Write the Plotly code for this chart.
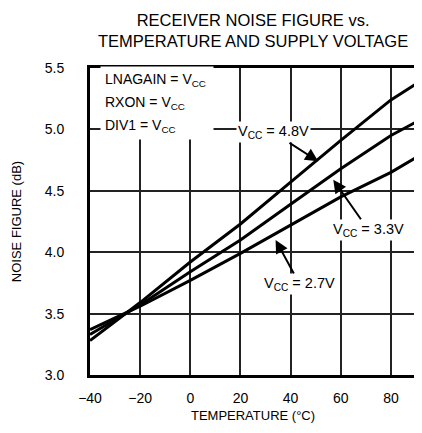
import plotly.graph_objects as go

temp = [-40, -20, 0, 20, 40, 60, 80, 90]
nf_48 = [3.28, 3.59, 3.92, 4.23, 4.57, 4.91, 5.24, 5.37]
nf_33 = [3.33, 3.57, 3.84, 4.10, 4.39, 4.68, 4.95, 5.06]
nf_27 = [3.37, 3.56, 3.77, 3.99, 4.22, 4.45, 4.65, 4.77]
series_names = ["V<sub>CC</sub> = 4.8V", "V<sub>CC</sub> = 3.3V", "V<sub>CC</sub> = 2.7V"]
conditions = ["LNAGAIN = V<sub>CC</sub>", "RXON = V<sub>CC</sub>", "DIV1 = V<sub>CC</sub>"]

x_ticks = [-40, -20, 0, 20, 40, 60, 80]
y_ticks = [3.0, 3.5, 4.0, 4.5, 5.0, 5.5]

FONT = "Liberation Sans, Arial, Helvetica"

fig = go.Figure()
for y, name in zip([nf_48, nf_33, nf_27], series_names):
    fig.add_trace(go.Scatter(x=temp, y=y, mode="lines", name=name,
                             line=dict(color="black", width=3), showlegend=False))

# arrow labels: tip on the curve, text offset in pixels
fig.add_annotation(x=51, y=4.74, text=series_names[0], ax=-45, ay=-29)
fig.add_annotation(x=57, y=4.59, text=series_names[1], ax=35, ay=50)
fig.add_annotation(x=34, y=4.10, text=series_names[2], ax=24, ay=44)
fig.update_annotations(showarrow=True, arrowhead=2, arrowsize=1.3, arrowwidth=2,
                       arrowcolor="black", bgcolor="white",
                       font=dict(family=FONT, size=14.5, color="black"))

# operating conditions block (white boxes break the grid like the original)
for txt, yy in zip(conditions, [0.961, 0.886, 0.811]):
    fig.add_annotation(xref="paper", yref="paper", x=0.03, y=yy,
                       xanchor="left", yanchor="middle", align="left", showarrow=False,
                       text=txt, bgcolor="white", borderpad=4, width=104,
                       font=dict(family=FONT, size=14, color="black"))

# page body adds an 8px offset, so the figure is 8px smaller and margins shifted
fig.update_layout(
    width=414, height=425,
    margin=dict(l=82, r=6, t=60, b=58),
    paper_bgcolor="white", plot_bgcolor="white",
    title=dict(text="RECEIVER NOISE FIGURE vs.<br>TEMPERATURE AND SUPPLY VOLTAGE",
               x=0.592, xanchor="center", y=0.958, yanchor="top",
               font=dict(family=FONT, size=16.5, color="black")),
)
fig.update_xaxes(range=[-40, 90], tickvals=x_ticks, showgrid=True, gridcolor="#222",
                 gridwidth=1.5, showline=True, linecolor="black", linewidth=3, mirror=True,
                 zeroline=False, ticks="outside", ticklen=8, tickcolor="rgba(0,0,0,0)",
                 automargin=False,
                 tickfont=dict(family=FONT, size=14, color="black"),
                 title=dict(text="TEMPERATURE (°C)", standoff=7,
                            font=dict(family=FONT, size=13, color="black")))
fig.update_yaxes(range=[3.0, 5.5], tickvals=y_ticks, tickformat=".1f", showgrid=True,
                 gridcolor="#222", gridwidth=1.5, showline=True, linecolor="black",
                 linewidth=3, mirror=True, zeroline=False, ticks="outside", ticklen=20,
                 tickcolor="rgba(0,0,0,0)", automargin=False,
                 tickfont=dict(family=FONT, size=14, color="black"),
                 title=dict(text="NOISE FIGURE (dB)", standoff=21,
                            font=dict(family=FONT, size=13, color="black")))

fig.write_html("out.html")
